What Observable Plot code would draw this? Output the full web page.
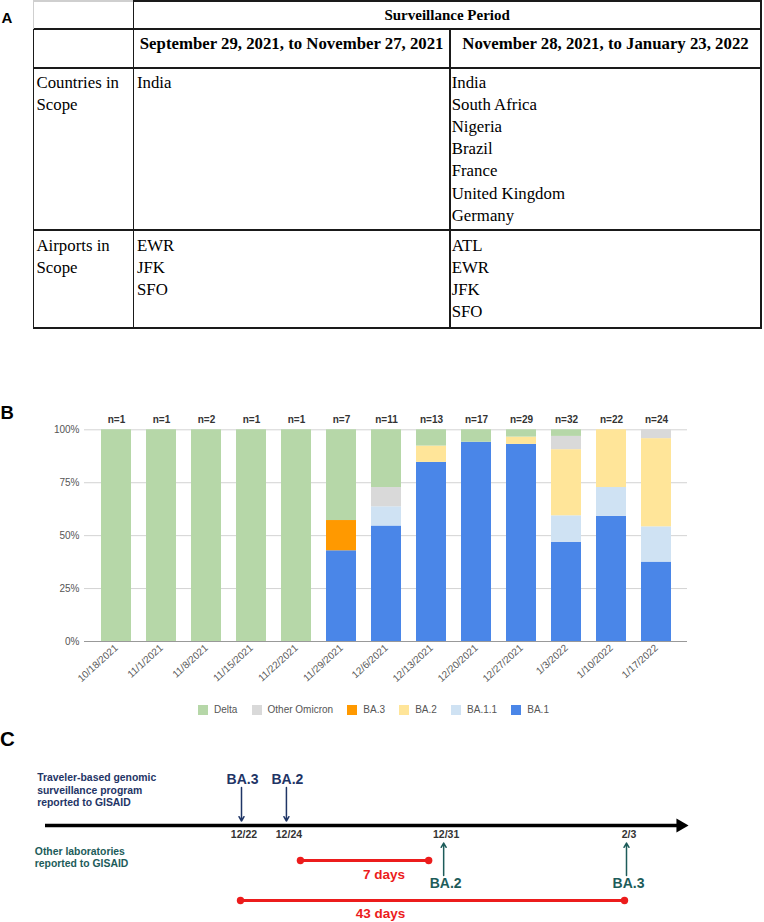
<!DOCTYPE html>
<html>
<head>
<meta charset="utf-8">
<script src="https://cdn.jsdelivr.net/npm/d3@7"></script>
<script src="https://cdn.jsdelivr.net/npm/@observablehq/plot@0.6"></script>
<style>
  body { margin: 0; background: #fff; }
  #page { position: relative; width: 764px; height: 922px; overflow: hidden; font-family: "Liberation Sans", Arial, sans-serif; }
  .plabel { position: absolute; font-weight: bold; color: #000; line-height: 1; }
  .tline { position: absolute; background: #1a1a1a; }
  .tline.light { background: #cfcfcf; }
  .ttext { position: absolute; font-family: "Liberation Serif", "Times New Roman", serif; color: #000; line-height: 22.2px; white-space: nowrap; }
  .hdr { font-weight: bold; text-align: center; }
  #legend { position: absolute; left: 198px; top: 703px; height: 13px; display: flex; align-items: center; font-size: 10px; color: #555; }
  #legend .item { display: flex; align-items: center; margin-right: 14.2px; }
  #legend .sw { width: 10px; height: 10px; margin-right: 6px; }
  .svgwrap { position: absolute; left: 0; }
</style>
</head>
<body>
<div id="page">
  <div class="plabel" style="left:1.5px;top:9.7px;font-size:15px;">A</div>
  <div class="plabel" style="left:0.5px;top:404.3px;font-size:18.5px;">B</div>
  <div class="plabel" style="left:0px;top:729px;font-size:20.5px;">C</div>
  <div id="tableA"></div>
  <div id="chartB" class="svgwrap" style="top:395px;"></div>
  <div id="legend"></div>
  <div id="chartC" class="svgwrap" style="top:760px;"></div>
</div>
<script>
// ---------- Panel A data ----------
const tableTitle = "Surveillance Period";
const periods = ["September 29, 2021, to November 27, 2021", "November 28, 2021, to January 23, 2022"];
const rowLabels = [["Countries in", "Scope"], ["Airports in", "Scope"]];
const countriesPeriod1 = ["India"];
const countriesPeriod2 = ["India", "South Africa", "Nigeria", "Brazil", "France", "United Kingdom", "Germany"];
const airportsPeriod1 = ["EWR", "JFK", "SFO"];
const airportsPeriod2 = ["ATL", "EWR", "JFK", "SFO"];

// ---------- Panel B data ----------
const weeks = ["10/18/2021", "11/1/2021", "11/8/2021", "11/15/2021", "11/22/2021", "11/29/2021", "12/6/2021",
  "12/13/2021", "12/20/2021", "12/27/2021", "1/3/2022", "1/10/2022", "1/17/2022"];
const lineages = ["BA.1", "BA.1.1", "BA.2", "BA.3", "Other Omicron", "Delta"]; // stack order bottom -> top
const lineageColors = ["#4a86e8", "#cfe2f3", "#ffe599", "#ff9900", "#d9d9d9", "#b6d7a8"];
const countBA1 = [0, 0, 0, 0, 0, 3, 6, 11, 16, 27, 15, 13, 9];
const countBA11 = [0, 0, 0, 0, 0, 0, 1, 0, 0, 0, 4, 3, 4];
const countBA2 = [0, 0, 0, 0, 0, 0, 0, 1, 0, 1, 10, 6, 10];
const countBA3 = [0, 0, 0, 0, 0, 1, 0, 0, 0, 0, 0, 0, 0];
const countOtherOmicron = [0, 0, 0, 0, 0, 0, 1, 0, 0, 0, 2, 0, 1];
const countDelta = [1, 1, 2, 1, 1, 3, 3, 1, 1, 1, 1, 0, 0];
const yTicks = [0, 0.25, 0.5, 0.75, 1];

// ---------- Panel C data ----------
const travelerNote = "Traveler-based genomic\nsurveillance program\nreported to GISAID";
const otherNote = "Other laboratories\nreported to GISAID";
const timelineLineages = ["BA.3", "BA.2"];
const travelerDates = ["2021-12-22", "2021-12-24"];
const otherLabDates = ["2022-02-03", "2021-12-31"];

// ================= Panel A (table) =================
(function () {
  const host = document.getElementById("tableA");
  const L = 33.3, C1 = 133.3, C2 = 450, R = 761;
  const Y0 = 1, Y1 = 29, Y2 = 68, Y3 = 230, Y4 = 328, T = 1.5;
  const hl = (x1, x2, y, light) => { const d = document.createElement("div"); d.className = "tline" + (light ? " light" : ""); Object.assign(d.style, {left: x1 + "px", top: (y - T / 2) + "px", width: (x2 - x1 + T / 2) + "px", height: T + "px"}); host.appendChild(d); };
  const vl = (x, y1, y2, light) => { const d = document.createElement("div"); d.className = "tline" + (light ? " light" : ""); Object.assign(d.style, {left: (x - T / 2) + "px", top: y1 + "px", width: T + "px", height: (y2 - y1 + T / 2) + "px"}); host.appendChild(d); };
  hl(L, C1, Y0, true); hl(C1, R, Y0);
  hl(L, R, Y1); hl(L, R, Y2); hl(L, R, Y3); hl(L, R, Y4);
  vl(L, Y0, Y1, true); vl(L, Y1, Y4); vl(C1, Y0, Y4); vl(C2, Y1, Y4); vl(R, Y0, Y4);
  const txt = (lines, x, y, opts = {}) => {
    const d = document.createElement("div");
    d.className = "ttext" + (opts.hdr ? " hdr" : "");
    d.innerHTML = lines.join("<br>");
    d.style.left = x + "px"; d.style.top = y + "px"; d.style.fontSize = (opts.fs || 16.8) + "px";
    if (opts.w) d.style.width = opts.w + "px";
    host.appendChild(d);
  };
  txt([tableTitle], C1, 4.1, {hdr: true, fs: 15, w: R - C1});
  txt([periods[0]], C1, 33, {hdr: true, w: C2 - C1});
  txt([periods[1]], C2, 33, {hdr: true, w: R - C2});
  txt(rowLabels[0], 36.5, 71.5);
  txt(countriesPeriod1, 137, 71.5);
  txt(countriesPeriod2, 451.7, 71.5);
  txt(rowLabels[1], 36.5, 234.8);
  txt(airportsPeriod1, 137, 234.8);
  txt(airportsPeriod2, 451.7, 234.8);
})();

// ================= Panel B (stacked bars) =================
const seriesCounts = [countBA1, countBA11, countBA2, countBA3, countOtherOmicron, countDelta];
const barRows = [];
weeks.forEach((w, i) => seriesCounts.forEach((arr, j) => {
  if (arr[i] > 0) barRows.push({week: w, lineage: lineages[j], n: arr[i]});
}));
const weekTotals = weeks.map((w, i) => d3.sum(seriesCounts, arr => arr[i]));

const chartB = Plot.plot({
  width: 764, height: 305,
  marginTop: 34.3, marginBottom: 59, marginLeft: 84, marginRight: 77,
  style: {fontFamily: "'Liberation Sans', Arial, sans-serif", fontSize: "10px", color: "#555", background: "transparent", overflow: "visible"},
  x: {domain: weeks, padding: 0.342},
  y: {domain: [0, 1]},
  color: {domain: lineages, range: lineageColors},
  marks: [
    Plot.gridY(yTicks.slice(1), {stroke: "#d3d3d3", strokeOpacity: 1}),
    Plot.barY(barRows, Plot.stackY({x: "week", y: "n", fill: "lineage", offset: "normalize", order: lineages})),
    Plot.ruleY([0], {stroke: "#999"}),
    Plot.axisY(yTicks, {tickSize: 0, tickPadding: 5, label: null, tickFormat: d => Math.round(d * 100) + "%"}),
    Plot.axisX({tickSize: 0, tickPadding: 5, tickRotate: -42, label: null}),
    Plot.text(weeks, {x: d => d, text: (d, i) => "n=" + weekTotals[i], frameAnchor: "top", dy: -14.3, fontWeight: "bold", fill: "#333"})
  ]
});
document.getElementById("chartB").appendChild(chartB);

// legend
(function () {
  const lg = document.getElementById("legend");
  lineages.slice().reverse().forEach(name => {
    const item = document.createElement("div"); item.className = "item";
    const sw = document.createElement("div"); sw.className = "sw"; sw.style.background = lineageColors[lineages.indexOf(name)];
    const t = document.createElement("span"); t.textContent = name;
    item.appendChild(sw); item.appendChild(t); lg.appendChild(item);
  });
})();

// ================= Panel C (timeline) =================
const parseDate = d3.utcParse("%Y-%m-%d");
const fmt = d3.utcFormat("%-m/%-d");
const day0 = parseDate(travelerDates[0]);
const dayOf = s => d3.utcDay.count(day0, parseDate(s));
const travelerEvents = timelineLineages.map((l, i) => ({lineage: l, day: dayOf(travelerDates[i]), label: fmt(parseDate(travelerDates[i]))}));
const otherEvents = timelineLineages.map((l, i) => ({lineage: l, day: dayOf(otherLabDates[i]), label: fmt(parseDate(otherLabDates[i]))}));
const allEvents = [...travelerEvents, ...otherEvents];
const delays = timelineLineages.map((l, i) => ({lineage: l, from: travelerEvents[i].day, to: otherEvents[i].day, days: otherEvents[i].day - travelerEvents[i].day}));
const spanBA2 = delays.filter(d => d.lineage === "BA.2");
const spanBA3 = delays.filter(d => d.lineage === "BA.3");

// schematic (non-uniform) time axis: the figure compresses time after the last December event
const breakDay = dayOf(otherLabDates[1]);
const lastDay = dayOf(otherLabDates[0]);
const compress = 0.2394;
const schematic = d => d <= breakDay ? d : breakDay + (d - breakDay) * compress;

const navy = "#1f3566", teal = "#1d5c5a", red = "#ec1c1c";
const fontC = "'Liberation Sans', Arial, sans-serif";
const chartC = Plot.plot({
  width: 764, height: 162,
  marginLeft: 45, marginRight: 84, marginTop: 0, marginBottom: 0,
  style: {fontFamily: fontC, background: "transparent", overflow: "visible"},
  x: {type: "linear", transform: schematic, domain: [0, schematic(lastDay)], range: [241, 626], axis: null},
  y: {type: "linear", domain: [65, -97], range: [0, 162], axis: null},
  marks: [
    Plot.ruleY([0], {stroke: "#000", strokeWidth: 3.6}),
    Plot.dot([0], {y: d => d, frameAnchor: "right", symbol: "triangle", rotate: 90, r: 5.2, fill: "#000", stroke: null}),
    Plot.text([travelerNote], {frameAnchor: "left", y: 36, dx: -8.3, textAnchor: "start", lineHeight: 1.23, fontSize: 10.4, fontWeight: "bold", fill: navy}),
    Plot.text([otherNote], {frameAnchor: "left", y: -31.3, dx: -10.7, textAnchor: "start", lineHeight: 1.22, fontSize: 10.4, fontWeight: "bold", fill: teal}),
    Plot.arrow(travelerEvents, {x: "day", y1: 38, y2: 4.5, stroke: navy, strokeWidth: 1.5, headLength: 5}),
    Plot.text(travelerEvents, {x: "day", y: 45.5, text: "lineage", fill: navy, fontSize: 14, fontWeight: "bold", dx: 1}),
    Plot.text(allEvents, {x: "day", y: -9, text: "label", fill: "#333", fontSize: 10.5, fontWeight: "bold", dx: 2.5}),
    Plot.arrow(otherEvents, {x: "day", y1: -50, y2: -17.5, stroke: teal, strokeWidth: 1.5, headLength: 5}),
    Plot.text(otherEvents, {x: "day", y: -58, text: "lineage", fill: teal, fontSize: 14, fontWeight: "bold", dx: 2}),
    Plot.ruleY(spanBA2, {x1: "from", x2: "to", y: -35, stroke: red, strokeWidth: 3, insetLeft: 14, insetRight: 15}),
    Plot.dot(spanBA2, {x: "from", y: -35, dx: 14, r: 3.7, fill: red, stroke: null}),
    Plot.dot(spanBA2, {x: "to", y: -35, dx: -15, r: 3.7, fill: red, stroke: null}),
    Plot.text(spanBA2, {x: d => (d.from + d.to) / 2, y: -49, text: d => d.days + " days", dx: 19, fill: red, fontSize: 13.5, fontWeight: "bold"}),
    Plot.ruleY(spanBA3, {x1: "from", x2: "to", y: -75, stroke: red, strokeWidth: 3, insetLeft: -1, insetRight: 2}),
    Plot.dot(spanBA3, {x: "from", y: -75, dx: -1, r: 3.7, fill: red, stroke: null}),
    Plot.dot(spanBA3, {x: "to", y: -75, dx: -2, r: 3.7, fill: red, stroke: null}),
    Plot.text(spanBA3, {x: "from", y: -87.7, text: d => d.days + " days", dx: 139, fill: red, fontSize: 13.5, fontWeight: "bold"})
  ]
});
document.getElementById("chartC").appendChild(chartC);
</script>
</body>
</html>
